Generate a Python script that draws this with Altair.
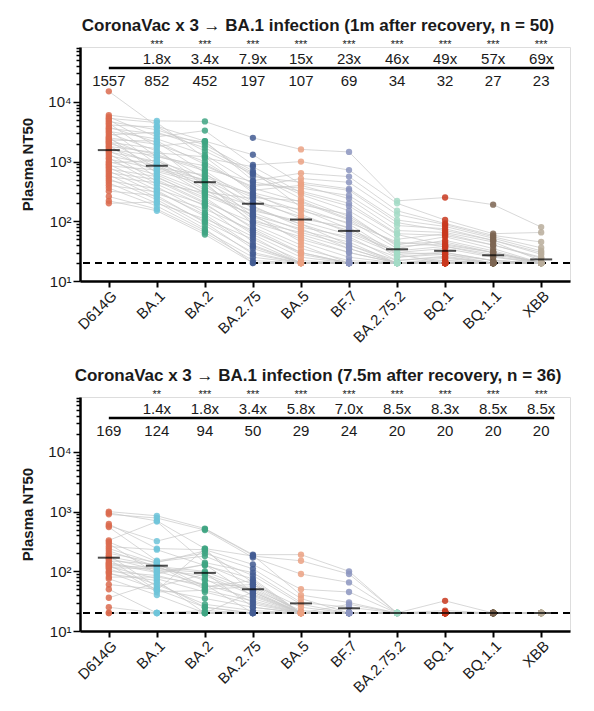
import altair as alt
import pandas as pd

variants = ["D614G", "BA.1", "BA.2", "BA.2.75", "BA.5", "BF.7", "BA.2.75.2", "BQ.1", "BQ.1.1", "XBB"]
colors = ["#DB6B4F", "#6EC4D9", "#3FA483", "#435C93", "#EBA183", "#8C95C0",
          "#A3DBC6", "#C9381E", "#7D6552", "#B9AD9B"]

# ---------------- top panel: 1 month after recovery (n = 50) ----------------
top_title = "CoronaVac x 3 \u2192 BA.1 infection (1m after recovery, n = 50)"
top_gm = [1557, 852, 452, 197, 107, 69, 34, 32, 27, 23]
top_fold = ["", "1.8x", "3.4x", "7.9x", "15x", "23x", "46x", "49x", "57x", "69x"]
top_stars = ["", "***", "***", "***", "***", "***", "***", "***", "***", "***"]

top_D614G = [15000, 6000, 5600, 5300, 5000, 4700, 4400, 4100, 3800, 3600, 3400, 3200, 3000, 2800, 2600, 2500, 2400,
             2300, 2200, 2100, 2000, 1900, 1800, 1700, 1600, 1500, 1450, 1350, 1250, 1150, 1100, 1000, 950, 900,
             850, 800, 750, 700, 650, 600, 560, 520, 480, 440, 400, 360, 320, 260, 220, 200]
top_BA1 = [3900, 4800, 2600, 4500, 1800, 3400, 1200, 3800, 2100, 2900, 900, 2400, 1500, 3100, 640, 1950, 1100, 2200,
           780, 1650, 1300, 540, 1400, 900, 1250, 680, 1000, 470, 860, 420, 760, 600, 1050, 380, 720, 330, 560, 290,
           500, 250, 440, 230, 350, 200, 310, 180, 270, 160, 150, 210]
top_BA2 = [2200, 4700, 3300, 1150, 2200, 1900, 850, 1500, 650, 2100, 480, 1300, 520, 1700, 310, 1000, 450, 900, 600,
           380, 750, 250, 1200, 330, 700, 420, 560, 200, 290, 180, 500, 270, 350, 140, 460, 120, 230, 160, 210, 100,
           300, 85, 190, 110, 130, 70, 95, 65, 60, 75]
top_BA275 = [1300, 2500, 880, 820, 480, 700, 380, 620, 160, 560, 290, 420, 120, 650, 240, 330, 90, 360, 270, 140, 460,
             75, 300, 180, 210, 110, 250, 60, 150, 45, 200, 130, 100, 55, 170, 35, 80, 70, 95, 40, 125, 30, 65, 50,
             38, 25, 28, 22, 20, 20]
top_BA5 = [420, 1600, 1000, 300, 640, 170, 520, 240, 90, 450, 130, 360, 60, 280, 110, 400, 40, 210, 150, 70, 320, 30,
           190, 80, 120, 50, 220, 25, 100, 20, 160, 45, 65, 20, 90, 20, 35, 28, 55, 20, 75, 20, 30, 22, 20, 20, 20,
           20, 20, 20]
top_BF7 = [330, 1450, 720, 180, 560, 90, 450, 120, 40, 350, 65, 270, 35, 150, 80, 240, 20, 105, 95, 45, 200, 20, 130,
           55, 70, 30, 110, 20, 60, 20, 75, 25, 40, 20, 50, 20, 22, 20, 30, 20, 35, 20, 20, 20, 20, 20, 20, 20, 20, 20]
top_BA2752 = [95, 220, 200, 60, 150, 28, 130, 40, 20, 105, 30, 85, 20, 50, 25, 70, 20, 35, 45, 20, 62, 20, 38, 22, 30,
              20, 42, 20, 28, 20, 32, 20, 22, 20, 25, 20, 20, 20, 20, 20, 20, 20, 20, 20, 20, 20, 20, 20, 20, 20]
top_BQ1 = [70, 250, 105, 40, 92, 20, 88, 55, 20, 82, 28, 75, 20, 62, 30, 65, 20, 48, 38, 22, 58, 20, 42, 25, 35, 20,
           45, 20, 30, 20, 38, 20, 26, 20, 28, 20, 20, 20, 22, 20, 24, 20, 20, 20, 20, 20, 20, 20, 20, 20]
top_BQ11 = [48, 190, 62, 30, 58, 20, 55, 35, 20, 52, 20, 48, 20, 40, 22, 45, 20, 32, 28, 20, 40, 20, 30, 20, 25, 20,
            30, 20, 22, 20, 26, 20, 20, 20, 22, 20, 20, 20, 20, 20, 20, 20, 20, 20, 20, 20, 20, 20, 20, 20]
top_XBB = [30, 80, 65, 20, 45, 20, 36, 20, 20, 32, 20, 28, 20, 25, 20, 22, 20, 20, 20, 20, 24, 20, 20, 20, 20, 20, 20,
           20, 20, 20, 20, 20, 20, 20, 20, 20, 20, 20, 20, 20, 20, 20, 20, 20, 20, 20, 20, 20, 20, 20]

# ---------------- bottom panel: 7.5 months after recovery (n = 36) ----------------
bot_title = "CoronaVac x 3 \u2192 BA.1 infection  (7.5m after recovery, n = 36)"
bot_gm = [169, 124, 94, 50, 29, 24, 20, 20, 20, 20]
bot_fold = ["", "1.4x", "1.8x", "3.4x", "5.8x", "7.0x", "8.5x", "8.3x", "8.5x", "8.5x"]
bot_stars = ["", "**", "***", "***", "***", "***", "***", "***", "***", "***"]

bot_D614G = [1000, 950, 900, 620, 580, 550, 330, 310, 290, 260, 240, 220, 200, 185, 175, 165, 160, 150, 140, 135,
             130, 125, 120, 115, 110, 100, 95, 90, 80, 75, 60, 50, 36, 25, 20, 20]
bot_BA1 = [850, 700, 780, 240, 320, 150, 680, 145, 90, 230, 135, 120, 140, 55, 125, 105, 48, 130, 100, 95, 45, 115,
           75, 110, 60, 85, 50, 70, 80, 40, 50, 20, 65, 20, 20, 20]
bot_BA2 = [520, 240, 490, 230, 510, 200, 140, 180, 130, 125, 55, 100, 220, 90, 50, 85, 240, 70, 60, 130, 48, 75, 45,
           95, 28, 55, 25, 20, 60, 20, 35, 20, 25, 20, 20, 22]
bot_BA275 = [190, 180, 170, 130, 185, 110, 95, 85, 60, 75, 70, 48, 65, 45, 55, 40, 42, 50, 35, 38, 32, 30, 28, 25, 22,
             60, 20, 45, 20, 20, 25, 20, 20, 20, 20, 20]
bot_BA5 = [190, 150, 90, 50, 40, 35, 30, 28, 25, 20, 20, 20, 20, 20, 20, 20, 20, 22, 20, 20, 20, 20, 20, 20, 20, 20,
           20, 20, 20, 20, 20, 20, 20, 20, 20, 20]
bot_BF7 = [100, 90, 65, 45, 30, 20, 25, 20, 20, 28, 20, 20, 20, 20, 20, 20, 20, 20, 20, 20, 20, 20, 20, 20, 20, 20,
           20, 20, 20, 20, 20, 20, 20, 20, 20, 20]
bot_BA2752 = [20, 20, 20, 20, 20, 20, 20, 20, 20, 20, 20, 20, 20, 20, 20, 20, 20, 20, 20, 20, 20, 20, 20, 20, 20, 20,
              20, 20, 20, 20, 20, 20, 20, 20, 20, 20]
bot_BQ1 = [32, 22, 20, 20, 20, 20, 20, 20, 20, 20, 20, 20, 20, 20, 20, 20, 20, 20, 20, 20, 20, 20, 20, 20, 20, 20,
           20, 20, 20, 20, 20, 20, 20, 20, 20, 20]
bot_BQ11 = [20, 20, 20, 20, 20, 20, 20, 20, 20, 20, 20, 20, 20, 20, 20, 20, 20, 20, 20, 20, 20, 20, 20, 20, 20, 20,
            20, 20, 20, 20, 20, 20, 20, 20, 20, 20]
bot_XBB = [20, 20, 20, 20, 20, 20, 20, 20, 20, 20, 20, 20, 20, 20, 20, 20, 20, 20, 20, 20, 20, 20, 20, 20, 20, 20,
           20, 20, 20, 20, 20, 20, 20, 20, 20, 20]

detection_limit = 20
y_ticks = [10, 20, 30, 40, 50, 60, 70, 80, 90,
           100, 200, 300, 400, 500, 600, 700, 800, 900,
           1000, 2000, 3000, 4000, 5000, 6000, 7000, 8000, 9000,
           10000, 20000, 30000, 40000, 50000, 60000, 70000, 80000]

FONT = "Liberation Sans"
TXT = "#1a1a1a"


def panel(columns, gm, fold, stars, title):
    rows = []
    for k, (v, vals) in enumerate(zip(variants, columns)):
        for i, val in enumerate(vals):
            rows.append({"sample": i, "variant": v, "order": k, "value": val})
    df = pd.DataFrame(rows)
    ann = pd.DataFrame({"variant": variants, "gm": gm, "fold": fold, "stars": stars,
                        "gmlabel": [str(g) for g in gm]})

    xscale = alt.Scale(type="point", domain=variants, padding=0.6)
    xenc = alt.X("variant:N", title=None, scale=xscale,
                 axis=alt.Axis(labelAngle=-45, labelAlign="right", labelBaseline="top",
                               labelFontSize=15, labelFont=FONT, labelColor=TXT, labelPadding=1,
                               tickSize=6, tickWidth=2, tickColor="black",
                               domainWidth=2.5, domainColor="black", grid=False))
    yscale = alt.Scale(type="log", domain=[10, 83000], nice=False)
    yaxis = alt.Axis(values=y_ticks, grid=False, title="Plasma NT50",
                     titleFont=FONT, titleFontSize=15, titleFontWeight="bold", titleColor=TXT,
                     titlePadding=12,
                     labelExpr="datum.value == 10 ? '10\u00b9' : datum.value == 100 ? '10\u00b2' : "
                               "datum.value == 1000 ? '10\u00b3' : datum.value == 10000 ? '10\u2074' : ''",
                     labelFont=FONT, labelFontSize=15, labelColor=TXT, labelOverlap=False, labelFlush=False,
                     labelPadding=2,
                     tickSize={"condition": {"test": "indexof([10, 100, 1000, 10000], datum.value) >= 0",
                                             "value": 7}, "value": 4},
                     tickWidth=1.5, tickColor="black", domainWidth=2.5, domainColor="black")

    base = alt.Chart(df)
    lines = base.mark_line(color="#c9c9c9", strokeWidth=0.8, opacity=0.9).encode(
        x=xenc,
        y=alt.Y("value:Q", scale=yscale, axis=yaxis),
        detail="sample:N",
        order="order:Q",
    )
    dots = base.mark_circle(size=40, opacity=0.85).encode(
        x=alt.X("variant:N", scale=xscale),
        y=alt.Y("value:Q"),
        color=alt.Color("variant:N", scale=alt.Scale(domain=variants, range=colors), legend=None),
    )
    dashed = alt.Chart(pd.DataFrame({"lod": [detection_limit]})).mark_rule(
        color="black", strokeWidth=2, strokeDash=[7, 5]).encode(y="lod:Q")
    ticks = alt.Chart(ann).mark_tick(color="black", thickness=2, size=22).encode(
        x=alt.X("variant:N", scale=xscale), y=alt.Y("gm:Q"))
    star_txt = alt.Chart(ann).mark_text(font=FONT, fontSize=11, color=TXT, baseline="middle").encode(
        x=alt.X("variant:N", scale=xscale), y=alt.value(-2), text="stars:N")
    fold_txt = alt.Chart(ann).mark_text(font=FONT, fontSize=15, color=TXT, baseline="middle").encode(
        x=alt.X("variant:N", scale=xscale), y=alt.value(12), text="fold:N")
    gm_txt = alt.Chart(ann).mark_text(font=FONT, fontSize=15, color=TXT, baseline="middle").encode(
        x=alt.X("variant:N", scale=xscale), y=alt.value(34), text="gmlabel:N")
    bar = alt.Chart(pd.DataFrame({"a": [variants[0]], "b": [variants[-1]]})).mark_rule(
        color="black", strokeWidth=2.5, x2Offset=13).encode(
        x=alt.X("a:N", scale=xscale), x2="b:N", y=alt.value(21))

    return alt.layer(lines, dashed, dots, ticks, star_txt, fold_txt, gm_txt, bar).properties(
        width=490, height=234,
        title=alt.TitleParams(title, font=FONT, fontSize=17, fontWeight="bold", color=TXT,
                              anchor="middle", offset=4, dx=-7),
    )


top = panel([top_D614G, top_BA1, top_BA2, top_BA275, top_BA5, top_BF7, top_BA2752, top_BQ1, top_BQ11, top_XBB],
            top_gm, top_fold, top_stars, top_title)
bottom = panel([bot_D614G, bot_BA1, bot_BA2, bot_BA275, bot_BA5, bot_BF7, bot_BA2752, bot_BQ1, bot_BQ11, bot_XBB],
               bot_gm, bot_fold, bot_stars, bot_title)

chart = alt.vconcat(top, bottom, spacing=20).configure_view(stroke=None).configure(
    background="white", padding={"left": 12, "top": 8, "right": 5, "bottom": 5})

chart.save("out.html", embed_options={"renderer": "svg", "actions": False})
